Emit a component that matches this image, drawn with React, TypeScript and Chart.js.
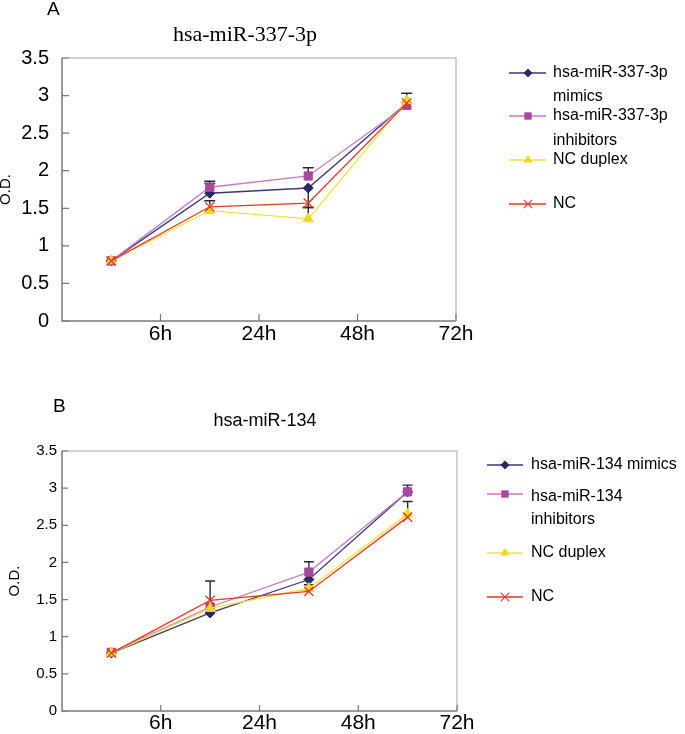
import React, { useEffect, useRef } from 'react';
import { Chart, registerables } from 'chart.js';

Chart.register(...registerables);

// ---------------- data ----------------
const timeLabels = ['6h', '24h', '48h', '72h'];
const yTickStep = 0.5;
const yMax = 3.5;

const titleA = 'hsa-miR-337-3p';
const legendA = [['hsa-miR-337-3p', 'mimics'], ['hsa-miR-337-3p', 'inhibitors'], ['NC duplex'], ['NC']];
const mimicsA = [0.8, 1.7, 1.77, 2.9];
const inhibitorsA = [0.8, 1.78, 1.93, 2.87];
const ncDuplexA = [0.8, 1.47, 1.36, 2.93];
const ncA = [0.8, 1.52, 1.57, 2.9];
const mimicsErrUpA = [0, 0.13, 0, 0.13];
const mimicsErrDownA = [0, 0, 0.26, 0];
const inhibitorsErrUpA = [0, 0.08, 0.11, 0];
const ncDuplexErrUpA = [0, 0, 0.15, 0];
const ncErrUpA = [0, 0.08, 0, 0];

const titleB = 'hsa-miR-134';
const legendB = [['hsa-miR-134 mimics'], ['hsa-miR-134', 'inhibitors'], ['NC duplex'], ['NC']];
const mimicsB = [0.78, 1.32, 1.77, 2.95];
const inhibitorsB = [0.79, 1.4, 1.87, 2.95];
const ncDuplexB = [0.78, 1.38, 1.65, 2.65];
const ncB = [0.78, 1.49, 1.61, 2.61];
const mimicsErrUpB = [0, 0, 0, 0];
const inhibitorsErrUpB = [0, 0, 0.14, 0.09];
const ncDuplexErrUpB = [0, 0, 0.05, 0.17];
const ncErrUpB = [0, 0.26, 0, 0];
const zeros = [0, 0, 0, 0];

// ---------------- styles ----------------
const SANS = '"Liberation Sans", Arial, sans-serif';
const SERIF = '"Liberation Serif", "Times New Roman", serif';

type Marker = 'diamond' | 'square' | 'triangle' | 'x';
const seriesStyles: { line: string; fill: string; marker: Marker; r: number; order: number }[] = [
  { line: '#3b3875', fill: '#2a2766', marker: 'diamond', r: 5, order: 3 },
  { line: '#c47cc2', fill: '#a9479f', marker: 'square', r: 5.8, order: 2 },
  { line: '#f0e23c', fill: '#efd91a', marker: 'triangle', r: 5.8, order: 1 },
  { line: '#e8362b', fill: '#e8362b', marker: 'x', r: 6.5, order: 0 },
];
const chartPointStyle: Record<Marker, string> = {
  diamond: 'rectRot',
  square: 'rect',
  triangle: 'triangle',
  x: 'crossRot',
};

function drawMarker(ctx: CanvasRenderingContext2D, kind: Marker, x: number, y: number, r: number, color: string) {
  ctx.save();
  ctx.fillStyle = color;
  ctx.strokeStyle = color;
  ctx.lineWidth = 1.2;
  ctx.beginPath();
  if (kind === 'diamond') {
    ctx.moveTo(x, y - r);
    ctx.lineTo(x + r, y);
    ctx.lineTo(x, y + r);
    ctx.lineTo(x - r, y);
    ctx.closePath();
    ctx.fill();
  } else if (kind === 'square') {
    const s = r * Math.SQRT1_2;
    ctx.rect(x - s, y - s, 2 * s, 2 * s);
    ctx.fill();
  } else if (kind === 'triangle') {
    ctx.moveTo(x, y - r);
    ctx.lineTo(x + 0.866 * r, y + 0.5 * r);
    ctx.lineTo(x - 0.866 * r, y + 0.5 * r);
    ctx.closePath();
    ctx.fill();
  } else {
    const o = r * Math.SQRT1_2;
    ctx.moveTo(x - o, y - o);
    ctx.lineTo(x + o, y + o);
    ctx.moveTo(x + o, y - o);
    ctx.lineTo(x - o, y + o);
    ctx.stroke();
  }
  ctx.restore();
}

type PanelCfg = {
  top: number;
  height: number;
  area: { left: number; right: number; top: number; bottom: number };
  series: number[][];
  errUp: number[][];
  errDown: number[][];
  legend: string[][];
  legendRows: number[];
  legendTextY: number[][];
  legendLine: [number, number];
  legendMarkerX: number;
  legendTextX: number;
  legendFont: string;
  yFont: number;
  yPad: number;
  xFont: number;
  xPad: number;
  odLineHeight: number;
  odPad: number;
  texts: { text: string; x: number; y: number; font: string; align: CanvasTextAlign }[];
  tickLen: number;
  capW: number;
};

function makePlugin(cfg: PanelCfg) {
  return {
    id: 'panelDecor',
    beforeDatasetsDraw(chart: any) {
      const { ctx, chartArea: a, scales } = chart;
      ctx.save();
      // frame
      ctx.lineWidth = 1.5;
      ctx.strokeStyle = '#c4c4c4';
      ctx.beginPath();
      ctx.moveTo(a.left, a.top);
      ctx.lineTo(a.right, a.top);
      ctx.lineTo(a.right, a.bottom);
      ctx.stroke();
      ctx.strokeStyle = '#7a7a7a';
      ctx.beginPath();
      ctx.moveTo(a.left, a.top);
      ctx.lineTo(a.left, a.bottom);
      ctx.lineTo(a.right, a.bottom);
      ctx.stroke();
      // inward ticks
      ctx.lineWidth = 1.2;
      ctx.strokeStyle = '#7a7a7a';
      ctx.beginPath();
      scales.y.ticks.forEach((t: any) => {
        const py = scales.y.getPixelForValue(t.value);
        ctx.moveTo(a.left, py);
        ctx.lineTo(a.left + cfg.tickLen, py);
      });
      scales.x.ticks.forEach((t: any) => {
        if (t.value <= 0) return;
        const px = scales.x.getPixelForValue(t.value);
        ctx.moveTo(px, a.bottom);
        ctx.lineTo(px, a.bottom - cfg.tickLen);
      });
      ctx.stroke();
      // error bars
      ctx.strokeStyle = '#2b2b2b';
      ctx.lineWidth = 1.4;
      cfg.series.forEach((vals, si) => {
        const meta = chart.getDatasetMeta(si);
        vals.forEach((v, i) => {
          const pt = meta.data[i];
          if (!pt) return;
          const up = cfg.errUp[si][i];
          const dn = cfg.errDown[si][i];
          ctx.beginPath();
          if (up > 0) {
            const py = scales.y.getPixelForValue(v + up);
            ctx.moveTo(pt.x, pt.y);
            ctx.lineTo(pt.x, py);
            ctx.moveTo(pt.x - cfg.capW / 2, py);
            ctx.lineTo(pt.x + cfg.capW / 2, py);
          }
          if (dn > 0) {
            const py = scales.y.getPixelForValue(v - dn);
            ctx.moveTo(pt.x, pt.y);
            ctx.lineTo(pt.x, py);
            ctx.moveTo(pt.x - cfg.capW / 2, py);
            ctx.lineTo(pt.x + cfg.capW / 2, py);
          }
          ctx.stroke();
        });
      });
      ctx.restore();
    },
    afterDraw(chart: any) {
      const { ctx } = chart;
      ctx.save();
      // texts (panel letter, title)
      cfg.texts.forEach((t) => {
        ctx.font = t.font;
        ctx.fillStyle = '#000';
        ctx.textAlign = t.align;
        ctx.textBaseline = 'alphabetic';
        ctx.fillText(t.text, t.x, t.y);
      });
      // legend
      cfg.legend.forEach((lines, si) => {
        const st = seriesStyles[si];
        const y = cfg.legendRows[si];
        ctx.strokeStyle = st.line;
        ctx.lineWidth = 1.3;
        ctx.beginPath();
        ctx.moveTo(cfg.legendLine[0], y);
        ctx.lineTo(cfg.legendLine[1], y);
        ctx.stroke();
        drawMarker(ctx, st.marker, cfg.legendMarkerX, y, st.r * 0.9, st.fill);
        ctx.font = cfg.legendFont;
        ctx.fillStyle = '#000';
        ctx.textAlign = 'left';
        ctx.textBaseline = 'middle';
        lines.forEach((txt, li) => {
          ctx.fillText(txt, cfg.legendTextX, cfg.legendTextY[si][li]);
        });
      });
      ctx.restore();
    },
  };
}

function Panel({ cfg }: { cfg: PanelCfg }) {
  const ref = useRef<HTMLCanvasElement | null>(null);
  useEffect(() => {
    if (!ref.current) return;
    const a = cfg.area;
    const datasets = cfg.series.map((vals, si) => {
      const st = seriesStyles[si];
      return {
        label: cfg.legend[si].join(' '),
        data: vals.map((v, i) => ({ x: i + 0.5, y: v })),
        borderColor: st.line,
        borderWidth: 1.3,
        backgroundColor: st.fill,
        pointBackgroundColor: st.fill,
        pointBorderColor: st.fill,
        pointBorderWidth: st.marker === 'x' ? 1.3 : 1,
        pointStyle: chartPointStyle[st.marker],
        pointRadius: st.r,
        tension: 0,
        order: st.order,
      };
    });
    const chart = new Chart(ref.current, {
      type: 'line',
      data: { datasets } as any,
      options: {
        animation: false,
        responsive: false,
        devicePixelRatio: 1,
        events: [],
        layout: {
          padding: { left: 0, top: a.top, right: 685 - a.right, bottom: 0 },
        },
        plugins: { legend: { display: false }, tooltip: { enabled: false }, title: { display: false } },
        scales: {
          x: {
            type: 'linear',
            min: 0,
            max: timeLabels.length,
            afterFit: (s: any) => {
              s.height = cfg.height - a.bottom;
            },
            ticks: {
              stepSize: 1,
              autoSkip: false,
              maxRotation: 0,
              padding: cfg.xPad,
              color: '#000',
              font: { family: SANS, size: cfg.xFont, lineHeight: 1.2 },
              callback: (v: any) => (v >= 1 ? timeLabels[v - 1] : ''),
            },
            grid: { display: false, drawTicks: false, tickLength: 0 },
            border: { display: false },
          },
          y: {
            type: 'linear',
            min: 0,
            max: yMax,
            afterFit: (s: any) => {
              s.width = a.left;
            },
            ticks: {
              stepSize: yTickStep,
              padding: cfg.yPad,
              color: '#000',
              font: { family: SANS, size: cfg.yFont },
              callback: (v: any) => String(v),
            },
            title: {
              display: true,
              text: 'O.D.',
              color: '#000',
              font: { family: SANS, size: 15, lineHeight: cfg.odLineHeight },
              padding: { top: cfg.odPad, bottom: 0 },
            },
            grid: { display: false, drawTicks: false, tickLength: 0 },
            border: { display: false },
          },
        },
      } as any,
      plugins: [makePlugin(cfg) as any],
    });
    return () => chart.destroy();
  }, [cfg]);
  return (
    <canvas
      ref={ref}
      width={685}
      height={cfg.height}
      style={{ position: 'absolute', left: 0, top: cfg.top, width: 685, height: cfg.height, display: 'block' }}
    />
  );
}

const cfgA: PanelCfg = {
  top: 0,
  height: 365,
  area: { left: 62, right: 456, top: 58, bottom: 321 },
  series: [mimicsA, inhibitorsA, ncDuplexA, ncA],
  errUp: [mimicsErrUpA, inhibitorsErrUpA, ncDuplexErrUpA, ncErrUpA],
  errDown: [mimicsErrDownA, zeros, zeros, zeros],
  legend: legendA,
  legendRows: [73, 116, 160, 204],
  legendTextY: [[73, 97], [116, 141], [160], [204]],
  legendLine: [509, 546],
  legendMarkerX: 528,
  legendTextX: 553,
  legendFont: `16px ${SANS}`,
  yFont: 20,
  yPad: 13,
  xFont: 21,
  xPad: 1,
  odLineHeight: 0.8,
  odPad: 0,
  texts: [
    { text: 'A', x: 47, y: 15, font: `19px ${SANS}`, align: 'left' },
    { text: titleA, x: 245, y: 41, font: `22px ${SERIF}`, align: 'center' },
  ],
  tickLen: 7,
  capW: 11,
};

const cfgB: PanelCfg = {
  top: 380,
  height: 354,
  area: { left: 62, right: 457, top: 71, bottom: 331 },
  series: [mimicsB, inhibitorsB, ncDuplexB, ncB],
  errUp: [mimicsErrUpB, inhibitorsErrUpB, ncDuplexErrUpB, ncErrUpB],
  errDown: [zeros, zeros, zeros, zeros],
  legend: legendB,
  legendRows: [85, 114, 173, 217],
  legendTextY: [[85], [117, 140], [173], [217]],
  legendLine: [487, 523],
  legendMarkerX: 505,
  legendTextX: 531,
  legendFont: `16px ${SANS}`,
  yFont: 15,
  yPad: 5,
  xFont: 21,
  xPad: 0,
  odLineHeight: 1.2,
  odPad: 6,
  texts: [
    { text: 'B', x: 53, y: 32, font: `19px ${SANS}`, align: 'left' },
    { text: titleB, x: 265, y: 46, font: `18px ${SANS}`, align: 'center' },
  ],
  tickLen: 6,
  capW: 10,
};

export default function App() {
  return (
    <div
      style={{
        position: 'fixed',
        left: 0,
        top: 0,
        width: 685,
        height: 734,
        background: '#fff',
        overflow: 'hidden',
      }}
    >
      <Panel cfg={cfgA} />
      <Panel cfg={cfgB} />
    </div>
  );
}
